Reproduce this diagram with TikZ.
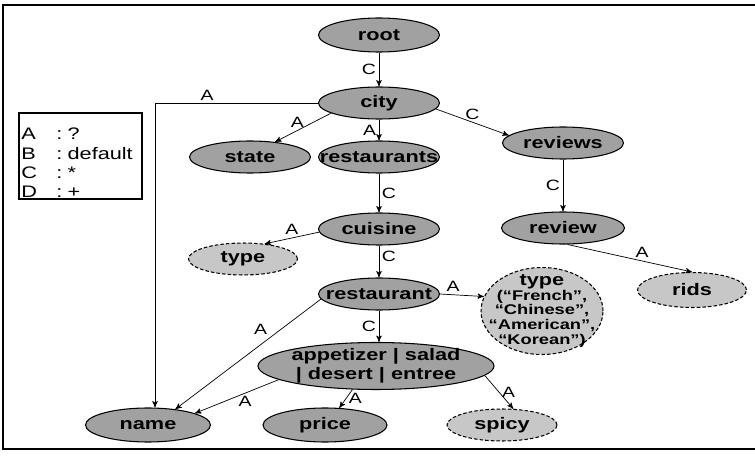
\documentclass[tikz,border=0pt]{standalone}
\usepackage{fontspec}
\newfontfamily\diagfont{Liberation Sans}[FakeStretch=1.3]
\usetikzlibrary{shapes.geometric, arrows}
\tikzset{
->, % every connector is directed
>=stealth', % small filled heads
elem/.style={ellipse, draw, line width=0.6pt, fill=black!37, inner xsep=-10pt, inner ysep=-4pt,
  minimum width=2.42cm, minimum height=0.64cm, align=center,
  font=\diagfont\bfseries\fontsize{9.5}{11}\selectfont}, % a schema element
optelem/.style={elem, fill=black!22, dash pattern=on 2pt off 1.2pt}, % an optional element
lbl/.style={font=\diagfont\fontsize{8.5}{9}\selectfont, inner sep=1.5pt}, % cardinality letter
}

\begin{document}
\begin{tikzpicture}[x=0.02cm, y=-0.02cm]
\useasboundingbox (0,0) rectangle (755,456);
\draw[-, line width=0.6pt] (755,5) -- (3,5) -- (3,449) -- (755,449);

% legend
\node[draw, line width=0.6pt, minimum width=2.46cm, minimum height=1.72cm] (legend) at (80.5,156) {};
\node[anchor=west, inner sep=0pt, font=\diagfont\fontsize{9.5}{11}\selectfont] (legendtext) at (21,165)
  {\begin{tabular}{@{}l@{\hspace{11pt}:\hspace{3pt}}l@{}}A & ?\\ B & default\\ C & *\\ D & +\end{tabular}};

% elements
\node[elem, minimum height=0.68cm] (root) at (379,35) {root};
\node[elem] (city) at (379,103) {city};
\node[elem] (state) at (250,157) {state};
\node[elem] (restaurants) at (379,157) {restaurants};
\node[elem] (reviews) at (563,143) {reviews};
\node[elem] (cuisine) at (379,229) {cuisine};
\node[elem, minimum width=2.46cm] (review) at (563,228) {review};
\node[optelem, minimum width=2.18cm] (cuisinetype) at (243,259) {type};
\node[elem] (restaurant) at (379,294) {restaurant};
\node[optelem, minimum width=2.44cm, minimum height=1.74cm, font=\diagfont\bfseries\fontsize{8}{8.4}\selectfont] (typelist) at (542,311)
  {{\fontsize{9.5}{11}\selectfont type}\\(“French”,\\“Chinese”,\\“American”,\\“Korean”)};
\node[optelem, minimum width=2.18cm, minimum height=0.7cm] (rids) at (692,290) {rids};
\node[elem, minimum width=4.72cm, minimum height=0.94cm] (dish) at (376,366) {appetizer | salad\\| desert | entree};
\node[elem, minimum width=2.5cm, minimum height=0.68cm] (name) at (148,425) {name};
\node[elem, minimum width=2.48cm, minimum height=0.68cm] (price) at (325,425) {price};
\node[optelem, minimum width=2.2cm] (spicy) at (502,425) {spicy};

\coordinate (elbow) at (155,103);

% connectors
\draw (root) -- node[lbl, left]{C} (city);
\draw (city) -- node[lbl, left]{A} (restaurants);
\draw (city.192) -- node[lbl, pos=0.6, above]{A} (state.31);
\draw (city.-6) -- node[lbl, above]{C} (reviews.172);
\draw (city.west) -- node[lbl, pos=0.68, above]{A} (elbow) -- (elbow |- name.north);
\draw (restaurants) -- node[lbl, right]{C} (cuisine);
\draw (reviews) -- node[lbl, left]{C} (review);
\draw (cuisine.183) -- node[lbl, above]{A} (cuisinetype.35);
\draw (cuisine) -- node[lbl, pos=0.35, right]{C} (restaurant);
\draw (review.-75) -- node[lbl, pos=0.6, above]{A} (rids.north);
\draw (restaurant.east) -- node[lbl, pos=0.3, above]{A} (typelist.166);
\draw (restaurant.south) -- node[lbl, left]{C} (restaurant.south |- dish.north);
\draw (restaurant.185) -- node[lbl, pos=0.35, above left]{A} (name.30);
\draw (dish.188) -- node[lbl, pos=0.4, below]{A} (name.14);
\draw (dish.225) -- node[lbl, right]{A} (price.50);
\draw (dish.-5) -- node[lbl, right]{A} (spicy.55);
\end{tikzpicture}
\end{document}
